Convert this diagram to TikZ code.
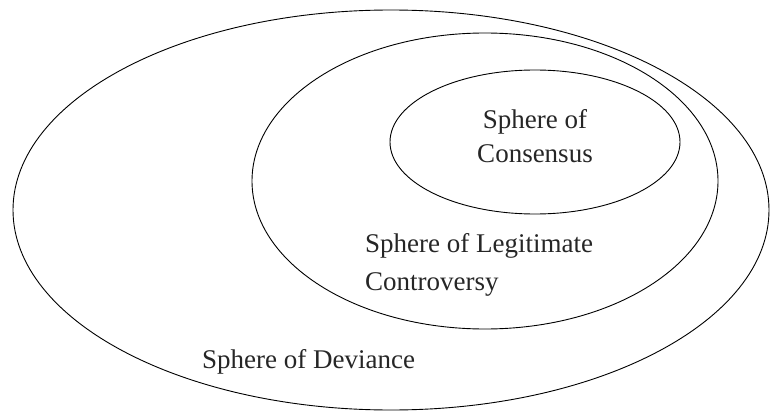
\documentclass[tikz,border=0pt]{standalone}
\usepackage{fontspec}
\setmainfont{Liberation Serif}
\usetikzlibrary{shapes.geometric}
\begin{document}
\begin{tikzpicture}[x=1pt,y=-1pt,
  sphere/.style={ellipse,draw=black,line width=0.9pt,inner sep=0pt},
  lbl/.style={font=\fontsize{27}{32}\selectfont,inner sep=0pt,text=black!85}]
\useasboundingbox (0,0) rectangle (771,412);
\node[sphere,minimum width=756pt,minimum height=400pt] (dev) at (391,210) {};
\node[sphere,minimum width=466pt,minimum height=296pt] (leg) at (485,181) {};
\node[sphere,minimum width=290pt,minimum height=144pt] (con) at (535,142) {};
\node[lbl,anchor=base] (c1) at (535,128) {Sphere of};
\node[lbl,anchor=base] (c2) at (535,162) {Consensus};
\node[lbl,anchor=base west] (l1) at (365,252) {Sphere of Legitimate};
\node[lbl,anchor=base west] (l2) at (365,290) {Controversy};
\node[lbl,anchor=base west] (d1) at (202,368) {Sphere of Deviance};
\end{tikzpicture}
\end{document}
